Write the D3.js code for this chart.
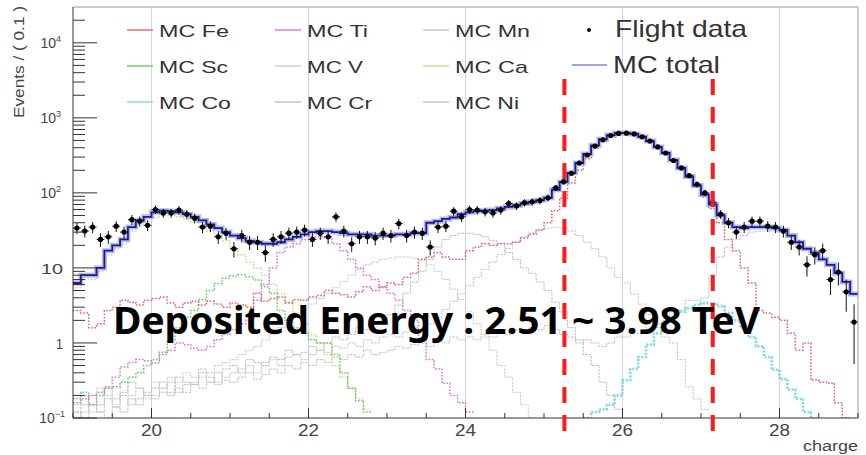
<!DOCTYPE html>
<meta charset="utf-8">
<script src="https://d3js.org/d3.v7.min.js"></script>
<style>
	body{
		margin:0;
		background:#fff;
	}
	svg text{
		font-family: "Liberation Sans", Arial, sans-serif;
	}
</style>
<div id="chart"></div>

<script>
	// binning of the charge histograms
	var binLow = 19.0
	var binWidth = 0.1
	var nBins = 100

	// flight data, counts per 0.1 charge bin (19.0 - 29.0)
	var flightData = [34,31,35,24,26,36,30,44,42,37,
		60,54,54,59,52,46,35,36,26,29,
		18,27,22,22,16,24,26,29,30,32,
		24,29,26,48,31,21,26,26,25,29,
		27,39,27,30,29,19,35,36,57,48,
		60,59,56,54,59,72,67,74,76,79,
		86,117,141,182,250,320,420,510,580,620,
		625,610,560,490,410,340,270,215,170,130,
		100,75,52,40,30,35,42,42,36,35,
		31,22,19,11,15,17,7,8.8,4.8,1.9]

	var mcTotal = [6.3,8,8,10,17,20,24,35,43,48,
		55,58,57,55,52,48,43,38,34,30,
		27,25,23,22,21,21,22,24,26,28,
		30,31,31,30,29,28,28,28,27,27,
		27,28,28,29,29,40,42,45,47,52,
		55,57,58,59,62,65,68,72,76,80,
		86,110,140,185,250,330,430,520,590,630,
		630,610,560,490,410,340,275,215,165,125,
		95,70,50,40,35,34,35,35,35,34,
		32,27,22,18,16,13,11,8.5,6.5,4.5]

	// MC components: first bin low edge + values
	var feStart = 19.0
	var feVals = [2.7,2.5,1.6,1.8,2.7,3.0,3.7,3.5,3.2,3.7,
		3.9,4.1,3.4,3.0,3.4,3.6,3.2,3.6,3.3,3.0,
		3.4,3.2,3.0,4.6,3.6,3.9,4.1,3.4,3.8,3.7,
		4.1,4.3,5.0,4.6,4.4,4.1,4.8,5.6,5.0,5.6,
		6.3,6.0,7.5,8.5,13,14,16,14,13,13,
		17,19,21,20,21,21,22,25,28,32,
		40,58,85,135,200,285,390,485,560,600,
		605,590,545,478,400,332,265,208,160,120,
		88,62,40,24,17,10,6.3,2.7,2.5,2.2,
		2.0,1.35,0.8,1.0,0.32,0.3,0.29,0.16,0.1,0.05]

	var tiStart = 19.0
	var tiVals = [0.16,0.18,0.2,0.22,0.26,0.35,0.48,0.55,0.6,0.58,
		0.54,0.7,0.8,1.0,0.95,0.85,0.8,0.9,1.1,1.3,
		1.5,1.8,2.0,3.7,6,10,16,19,21,24,
		26,26,25,21,17,13,10,8,7,5.5,
		4.6,3.7,2.7,2.0,1.1,0.6,0.45,0.29,0.2,0.16,
		0.12]

	var scStart = 19.0
	var scVals = [0.18,0.22,0.15,0.2,0.25,0.26,0.3,0.35,0.4,0.5,
		0.6,0.75,1.1,1.6,2.2,2.7,3.8,5.0,6.2,7.3,
		7.8,8.1,7.6,6.9,5.6,4.6,2.7,2.0,1.6,1.35,
		1.1,1.0,1.0,0.7,0.4,0.25,0.17,0.12]

	var caStart = 19.0
	var caVals = [5.5,7,7,9,15,18,21,31,38,42,
		47,50,50,48,45,41,36,31,27,23,
		18,15,12,10,8,6,4.5,3.5,2.5,1.8,
		1.3,1.0,0.7,0.5,0.35,0.25,0.18,0.13]

	var vStart = 19.0
	var vVals = [0.15,0.2,0.12,0.25,0.2,0.15,0.3,0.2,0.25,0.18,
		0.3,0.25,0.35,0.3,0.4,0.35,0.45,0.4,0.5,0.55,
		0.6,0.7,0.8,0.9,1.1,1.3,1.6,2.0,2.4,2.8,
		3.3,3.9,4.6,5.5,6.6,8,9.5,11,12,13,
		13.5,14,14,13.5,12.5,11,9,7,5.2,3.8,
		2.6,1.8,1.2,0.8,0.5,0.35,0.22,0.15,0.1]

	var crStart = 19.0
	var crVals = [0.12,0.15,0.2,0.15,0.25,0.18,0.22,0.3,0.25,0.2,
		0.25,0.3,0.22,0.35,0.3,0.28,0.4,0.35,0.3,0.45,
		0.5,0.4,0.6,0.55,0.5,0.65,0.6,0.8,0.7,0.75,
		0.9,0.8,1.0,1.2,1.1,1.3,1.6,1.5,1.8,2.0,
		2.4,3.2,4.6,6.5,9,13,19,24,27,29,
		29,28,26,23,21,16,13,10,8.5,6.5,
		5,3.5,2.6,1.6,1.1,0.7,0.5,0.3,0.2,0.13]

	var mnStart = 19.0
	var mnVals = [0.1,0.12,0.15,0.12,0.18,0.14,0.2,0.15,0.18,0.22,
		0.2,0.25,0.3,0.22,0.28,0.3,0.35,0.3,0.4,0.35,
		0.4,0.45,0.5,0.4,0.55,0.6,0.5,0.65,0.7,0.6,
		0.7,0.8,0.75,0.9,0.85,1.0,0.9,1.1,1.0,1.2,
		1.3,1.2,1.4,1.6,1.5,1.8,2.2,2.8,3.6,4.5,
		5.8,7.5,9.5,12,15,18,22,26,29,32,
		34,35,34,31,27,22,18,14,10,7.5,
		6.3,4.5,3.3,2.4,1.6,1.2,1.0,0.6,0.26,0.18,
		0.13]

	var coStart = 25.5
	var coVals = [0.1,0.12,0.13,0.15,0.2,
		0.32,0.45,0.65,0.95,1.35,1.8,2.2,2.6,2.9,3.2,
		3.4,3.4,3.1,2.5,2.0,1.6,1.2,0.9,0.65,0.44,
		0.33,0.24,0.18,0.12,0.1]

	var niStart = 19.0
	var niVals = [0.12,0.1,0.15,0.12,0.1,0.14,0.12,0.18,0.15,0.2,
		0.18,0.22,0.2,0.25,0.22,0.28,0.25,0.3,0.28,0.32,
		0.3,0.35,0.4,0.33,0.38,0.45,0.4,0.5,0.45,0.55,
		0.5,0.6,0.55,0.65,0.6,0.7,0.65,0.8,0.7,0.75,
		0.8,0.9,0.85,0.95,1.0,0.9,1.1,1.0,1.2,1.1,
		1.2,1.1,1.3,1.2,1.4,1.3,1.5,1.4,1.6,1.5,
		1.7,1.5,1.3,1.2,1.0,1.1,1.0,0.9,1.0,1.2,
		1.2,1.35,1.35,1.8,1.8,2.0,2.7,2.7,3.7,3.7,
		4,8,14,19,24,27,30,31,31,31,
		29,26,22,18,15,13,10.5,8.5,6.5,4.5]

	// cut lines of the energy window
	var cutLines = [25.26, 27.15]
	var xTickLabels = [20,22,24,26,28]
	var annotation = "Deposited Energy : 2.51 ~ 3.98 TeV"

	var components = [
		{name:"MC Ni", start:niStart, vals:niVals},
		{name:"MC Mn", start:mnStart, vals:mnVals},
		{name:"MC Cr", start:crStart, vals:crVals},
		{name:"MC V", start:vStart, vals:vVals},
		{name:"MC Ca", start:caStart, vals:caVals},
		{name:"MC Sc", start:scStart, vals:scVals},
		{name:"MC Ti", start:tiStart, vals:tiVals},
		{name:"MC Co", start:coStart, vals:coVals},
		{name:"MC Fe", start:feStart, vals:feVals}
	]

	var styles = {
		"MC Fe":{color:"#e46464", width:1.5, dash:"1.6,1.6"},
		"MC Ti":{color:"#d874d8", width:1.5, dash:"1.6,1.6"},
		"MC Mn":{color:"#c6c6c6", width:1, dash:"2.5,1"},
		"MC Sc":{color:"#66cc66", width:1.5, dash:"1.6,1.6"},
		"MC V":{color:"#c8cdc8", width:1, dash:"2.5,1"},
		"MC Ca":{color:"#d6d494", width:1.5, dash:"1.6,1.6"},
		"MC Co":{color:"#80dae4", width:2.6, dash:"2,1.5"},
		"MC Cr":{color:"#bdbdbd", width:1, dash:"2.5,1"},
		"MC Ni":{color:"#c0c0c8", width:1, dash:"2.5,1"}
	}

	var W = 866, H = 455
	var fL = 73, fR = 858, fT = 7, fB = 418

	var svg = d3.select("#chart").append("svg").attr("width",W).attr("height",H)

	var x = d3.scaleLinear().domain([19,29]).range([fL,fR])
	var y = d3.scaleLog().domain([0.1,3e4]).range([fB,fT])

	svg.append("clipPath").attr("id","frameClip")
		.append("rect").attr("x",fL).attr("y",fT).attr("width",fR-fL).attr("height",fB-fT)

	// vertical grid
	svg.append("g").selectAll("line").data(xTickLabels).join("line")
		.attr("x1",d=>x(d)).attr("x2",d=>x(d)).attr("y1",fT).attr("y2",fB)
		.attr("stroke","#d4d4d4").attr("stroke-width",1)

	var plot = svg.append("g").attr("clip-path","url(#frameClip)")

	var stepLine = d3.line()
		.x(d=>x(d[0]))
		.y(d=>y(Math.max(d[1],0.03)))
		.curve(d3.curveStepAfter)

	function stepPoints(start, vals){
		var pts = vals.map(function(v,i){ return [start+i*binWidth, v] })
		pts.push([start+vals.length*binWidth, vals[vals.length-1]])
		return pts
	}

	components.forEach(function(c){
		var s = styles[c.name]
		plot.append("path")
			.attr("d",stepLine(stepPoints(c.start,c.vals)))
			.attr("fill","none")
			.attr("stroke",s.color)
			.attr("stroke-width",s.width)
			.attr("stroke-dasharray",s.dash)
	})

	// MC total with light band
	var totalPts = stepPoints(binLow, mcTotal)
	plot.append("path").attr("d",stepLine(totalPts))
		.attr("fill","none").attr("stroke","#9ea4ea").attr("stroke-width",5).attr("opacity",0.75)
	plot.append("path").attr("d",stepLine(totalPts))
		.attr("fill","none").attr("stroke","#1c1c8e").attr("stroke-width",1.8)

	// flight data with errors
	var pts = flightData.map(function(n,i){ return {c:binLow+(i+0.5)*binWidth, n:n} })
	var dg = plot.append("g")
	dg.selectAll(".ey").data(pts).join("line")
		.attr("x1",d=>x(d.c)).attr("x2",d=>x(d.c))
		.attr("y1",d=>y(d.n+Math.sqrt(d.n)))
		.attr("y2",d=>y(Math.max(d.n-Math.sqrt(d.n),0.05)))
		.attr("stroke","#111").attr("stroke-width",1)
	dg.selectAll(".ex").data(pts).join("line")
		.attr("x1",d=>x(d.c-binWidth/2)).attr("x2",d=>x(d.c+binWidth/2))
		.attr("y1",d=>y(d.n)).attr("y2",d=>y(d.n))
		.attr("stroke","#111").attr("stroke-width",1)
	dg.selectAll("circle").data(pts).join("circle")
		.attr("cx",d=>x(d.c)).attr("cy",d=>y(d.n)).attr("r",2.6).attr("fill","#000")

	// frame
	svg.append("line").attr("x1",fL).attr("x2",fR).attr("y1",fT).attr("y2",fT).attr("stroke","#9a9a9a")
	svg.append("line").attr("x1",fR).attr("x2",fR).attr("y1",fT).attr("y2",fB).attr("stroke","#9a9a9a")
	svg.append("line").attr("x1",fL).attr("x2",fR).attr("y1",fB).attr("y2",fB).attr("stroke","#333")
	svg.append("line").attr("x1",fL).attr("x2",fL).attr("y1",fT).attr("y2",fB).attr("stroke","#333")

	// x ticks
	var xt = d3.range(19,29.01,0.5)
	svg.append("g").selectAll("line").data(xt).join("line")
		.attr("x1",d=>x(d)).attr("x2",d=>x(d))
		.attr("y1",fB).attr("y2",d=>fB-(d%2==0?10:5))
		.attr("stroke","#333")
	svg.append("g").selectAll("text").data(xTickLabels).join("text")
		.attr("x",d=>x(d)).attr("y",436)
		.attr("text-anchor","middle").attr("font-size",16).attr("fill","#444")
		.attr("textLength",21).attr("lengthAdjust","spacingAndGlyphs")
		.text(d=>d)
	svg.append("text").attr("x",fR).attr("y",451).attr("text-anchor","end")
		.attr("font-size",14).attr("fill","#444")
		.attr("textLength",55).attr("lengthAdjust","spacingAndGlyphs")
		.text("charge")

	// y ticks (log)
	var decades = [-1,0,1,2,3,4]
	var minorT = []
	decades.forEach(function(d){
		for(var k=2;k<=9;k++){
			var v = k*Math.pow(10,d)
			if(v<3e4) minorT.push(v)
		}
	})
	svg.append("g").selectAll("line").data(minorT).join("line")
		.attr("x1",fL).attr("x2",fL+12).attr("y1",d=>y(d)).attr("y2",d=>y(d)).attr("stroke","#333")
	svg.append("g").selectAll("line").data(decades).join("line")
		.attr("x1",fL).attr("x2",fL+24)
		.attr("y1",d=>y(Math.pow(10,d))).attr("y2",d=>y(Math.pow(10,d))).attr("stroke","#333")

	var yl = svg.append("g")
	decades.forEach(function(d){
		var yy = y(Math.pow(10,d))
		if(d==0 || d==1){
			yl.append("text").attr("x",63).attr("y",yy+6).attr("text-anchor","end")
				.attr("font-size",15).attr("fill","#444")
				.attr("textLength",d==0?7:22).attr("lengthAdjust","spacingAndGlyphs")
				.text(d==0?"1":"10")
		}else{
			var t = yl.append("text").attr("x",d<0?65:61).attr("y",yy+5).attr("text-anchor","end")
				.attr("font-size",14).attr("fill","#444")
			t.append("tspan").text("10")
			t.append("tspan").attr("font-size",9).attr("dy",-6).text(d<0?"\u22121":d)
		}
	})

	svg.append("text")
		.attr("transform","translate(24,118) rotate(-90)")
		.attr("font-size",14).attr("fill","#444")
		.attr("textLength",112).attr("lengthAdjust","spacingAndGlyphs")
		.text("Events / ( 0.1 )")

	// legend
	var legendRows = [["MC Fe","MC Ti","MC Mn"],["MC Sc","MC V","MC Ca"],["MC Co","MC Cr","MC Ni"]]
	var legendWidths = {"MC Fe":70,"MC Ti":61,"MC Mn":75,"MC Sc":69,"MC V":56,"MC Ca":73,"MC Co":72,"MC Cr":65,"MC Ni":64}
	var colX = [127,275,423]
	var rowY = [37,73,109]
	legendRows.forEach(function(row,r){
		row.forEach(function(name,c){
			var s = styles[name]
			svg.append("line").attr("x1",colX[c]).attr("x2",colX[c]+26)
				.attr("y1",rowY[r]-7).attr("y2",rowY[r]-7)
				.attr("stroke",s.color).attr("stroke-width",1.4)
			svg.append("text").attr("x",colX[c]+32).attr("y",rowY[r])
				.attr("font-size",17).attr("fill","#333")
				.attr("textLength",legendWidths[name]).attr("lengthAdjust","spacingAndGlyphs")
				.text(name)
		})
	})
	svg.append("circle").attr("cx",589).attr("cy",30).attr("r",2).attr("fill","#000")
	svg.append("text").attr("x",615).attr("y",37).attr("font-size",24).attr("fill","#333")
		.attr("textLength",132).attr("lengthAdjust","spacingAndGlyphs").text("Flight data")
	svg.append("line").attr("x1",572).attr("x2",607).attr("y1",65).attr("y2",65)
		.attr("stroke","#8088d8").attr("stroke-width",1.5)
	svg.append("text").attr("x",613).attr("y",73).attr("font-size",24).attr("fill","#333")
		.attr("textLength",107).attr("lengthAdjust","spacingAndGlyphs").text("MC total")

	// energy window cuts
	svg.append("g").selectAll("line").data(cutLines).join("line")
		.attr("x1",d=>x(d)).attr("x2",d=>x(d)).attr("y1",79).attr("y2",431)
		.attr("stroke","#ff1a1a").attr("stroke-width",4).attr("stroke-dasharray","16,12")

	svg.append("text").attr("x",113).attr("y",334)
		.style("font-family","'Noto Sans', 'Open Sans', sans-serif")
		.attr("font-weight",700).attr("font-size",38).attr("fill","#000")
		.attr("textLength",647).attr("lengthAdjust","spacingAndGlyphs")
		.text(annotation)
</script>
